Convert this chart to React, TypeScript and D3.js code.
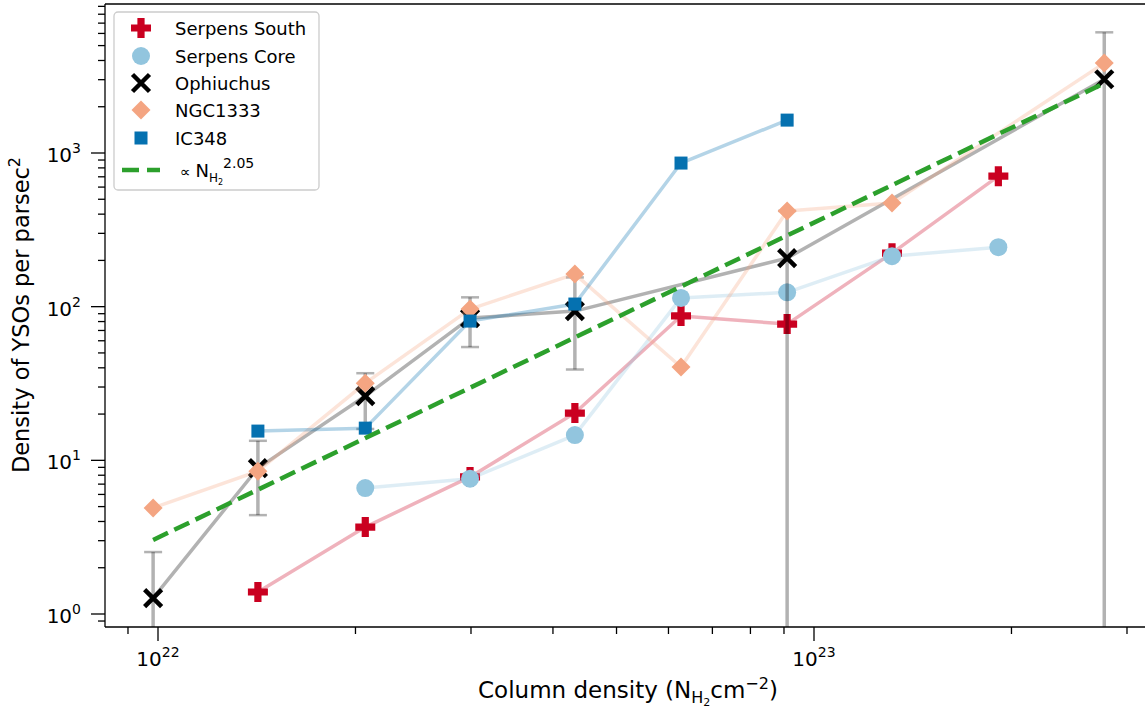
import React from "react";
import * as d3 from "d3";

const W = 1145;
const H = 711;

// Column density bins (cm^-2)
const columnDensity = [9.83e21, 1.42e22, 2.07e22, 2.99e22, 4.32e22, 6.27e22, 9.1e22, 1.315e23, 1.91e23, 2.77e23];

const serpensSouth = [null, 1.39, 3.68, 7.8, 20.3, 87, 77, 223, 707, null];
const serpensCore = [null, null, 6.6, 7.6, 14.6, 114, 124, 213, 244, null];
const ophiuchus = [1.27, 8.9, 26.2, 84.3, 93.6, null, 207, null, null, 3020];
const ophiuchusHigh = [2.53, 13.4, 36.9, 115, 155, null, 420, null, null, 6100];
const ophiuchusLow = [0, 4.4, 16, 54.6, 39, null, 0, null, null, 0];
const ngc1333 = [4.9, 8.5, 31.8, 96.4, 163, 40.5, 419, 472, null, 3845];
const ic348 = [null, 15.5, 16.2, 80.6, 104, 860, 1637, null, null, null];

const fitCoeff = 3.14; // at N = 1e22
const fitExponent = 2.05;

const xMajor = [1e22, 1e23];
const xMinor = [9e21, 2e22, 3e22, 4e22, 5e22, 6e22, 7e22, 8e22, 9e22, 2e23, 3e23];
const yMajor = [1, 10, 100, 1000];
const yMinor: number[] = [];
[0.1, 1, 10, 100, 1000].forEach((d) => {
  for (let k = 2; k <= 9; k++) yMinor.push(d * k);
});

const seriesNames = ["Serpens South", "Serpens Core", "Ophiuchus", "NGC1333", "IC348"];
const colors = ["#ca0020", "#92c5de", "#000000", "#f4a582", "#0571b0"];

const FONT = "DejaVu Sans, sans-serif";

// plot frame
const L = 105, R = 1146, T = 4, B = 627;

const x = d3.scaleLog().domain([1e22, 1e23]).range([158, 814]);
const y = d3.scaleLog().domain([1, 1000]).range([614, 153]);

function marker(kind: string, cx: number, cy: number, color: string, key: string) {
  if (kind === "plus") {
    const s = 10, t = 3.6;
    const p = `M${cx - t},${cy - s}H${cx + t}V${cy - t}H${cx + s}V${cy + t}H${cx + t}V${cy + s}H${cx - t}V${cy + t}H${cx - s}V${cy - t}H${cx - t}Z`;
    return <path key={key} d={p} fill={color} />;
  }
  if (kind === "circle") return <circle key={key} cx={cx} cy={cy} r={9} fill={color} />;
  if (kind === "x") {
    const s = 8.5;
    return (
      <path key={key} d={`M${cx - s},${cy - s}L${cx + s},${cy + s}M${cx - s},${cy + s}L${cx + s},${cy - s}`}
        stroke={color} strokeWidth={4.5} fill="none" />
    );
  }
  if (kind === "diamond") {
    const s = 9.5;
    return <path key={key} d={`M${cx},${cy - s}L${cx + s},${cy}L${cx},${cy + s}L${cx - s},${cy}Z`} fill={color} />;
  }
  const s = 6.5;
  return <rect key={key} x={cx - s} y={cy - s} width={2 * s} height={2 * s} fill={color} />;
}

const kinds = ["plus", "circle", "x", "diamond", "square"];
const allSeries = [serpensSouth, serpensCore, ophiuchus, ngc1333, ic348];

export default function App() {
  const line = d3
    .line<[number, number]>()
    .x((d) => x(d[0]))
    .y((d) => y(d[1]));

  const pts = (vals: (number | null)[]) =>
    columnDensity.map((c, i) => [c, vals[i]] as [number, number | null]).filter((d) => d[1] !== null) as [number, number][];

  const fitPts: [number, number][] = [columnDensity[0], columnDensity[columnDensity.length - 1]].map(
    (n) => [n, fitCoeff * Math.pow(n / 1e22, fitExponent)] as [number, number]
  );

  const yc = (v: number) => y(Math.max(v, 0.3));

  const seriesEls = allSeries.map((vals, si) => {
    const p = pts(vals);
    const els: React.ReactNode[] = [];
    els.push(
      <path key={`l${si}`} d={line(p) || ""} fill="none" stroke={colors[si]} strokeOpacity={0.3} strokeWidth={3.5} strokeLinejoin="round" />
    );
    if (si === 2) {
      columnDensity.forEach((c, i) => {
        const hi = ophiuchusHigh[i];
        const lo = ophiuchusLow[i];
        if (hi === null || lo === null) return;
        const cx = x(c);
        els.push(
          <g key={`e${i}`} stroke="#000" strokeOpacity={0.3} strokeWidth={3.5}>
            <line x1={cx} x2={cx} y1={yc(lo)} y2={yc(hi)} />
            <line x1={cx - 9} x2={cx + 9} y1={yc(hi)} y2={yc(hi)} strokeWidth={2.5} />
            <line x1={cx - 9} x2={cx + 9} y1={yc(lo)} y2={yc(lo)} strokeWidth={2.5} />
          </g>
        );
      });
    }
    p.forEach((d, i) => els.push(marker(kinds[si], x(d[0]), y(d[1]), colors[si], `m${si}-${i}`)));
    return <g key={`s${si}`}>{els}</g>;
  });

  const legendRows = [28, 56, 83, 110, 138];

  return (
    <div style={{ position: "absolute", left: 0, top: 0 }}>
      <svg width={W} height={H} style={{ display: "block", fontFamily: FONT }}>
        <defs>
          <clipPath id="plotclip">
            <rect x={L} y={T} width={R - L} height={B - T} />
          </clipPath>
        </defs>
        <rect x={0} y={0} width={W} height={H} fill="#fff" />
        <g clipPath="url(#plotclip)">
          {seriesEls}
          <path d={line(fitPts) || ""} fill="none" stroke="#2ca02c" strokeWidth={4.5} strokeDasharray="16.5,7" />
        </g>
        {/* frame */}
        <g stroke="#000" strokeWidth={1.3} fill="none">
          <line x1={L} x2={L} y1={T} y2={B} />
          <line x1={L} x2={R} y1={B} y2={B} />
          <line x1={L} x2={R} y1={T} y2={T} />
        </g>
        {/* ticks */}
        <g stroke="#000" strokeWidth={1.3}>
          {xMajor.map((v) => (
            <line key={`xM${v}`} x1={x(v)} x2={x(v)} y1={B} y2={B + 14} />
          ))}
          {xMinor.map((v) => (
            <line key={`xm${v}`} x1={x(v)} x2={x(v)} y1={B} y2={B + 7} />
          ))}
          {yMajor.map((v) => (
            <line key={`yM${v}`} x1={L} x2={L - 14} y1={y(v)} y2={y(v)} />
          ))}
          {yMinor
            .filter((v) => y(v) <= B && y(v) >= T)
            .map((v) => (
              <line key={`ym${v}`} x1={L} x2={L - 7} y1={y(v)} y2={y(v)} />
            ))}
        </g>
        {xMajor.map((v) => (
          <text key={`xl${v}`} x={x(v)} y={666} textAnchor="middle" fontSize={20} fill="#000">
            <tspan>10</tspan>
            <tspan dy={-9} fontSize={14}>{Math.round(Math.log10(v))}</tspan>
          </text>
        ))}
        {yMajor.map((v) => (
          <text key={`yl${v}`} x={81} y={y(v) + 9} textAnchor="end" fontSize={20} fill="#000">
            <tspan>10</tspan>
            <tspan dy={-9} fontSize={14}>{Math.round(Math.log10(v))}</tspan>
          </text>
        ))}
        {/* axis labels */}
        <text x={628} y={698} textAnchor="middle" fontSize={23} fill="#000">
          <tspan>Column density (N</tspan>
          <tspan dy={5} fontSize={16}>H</tspan>
          <tspan dy={3} fontSize={11}>2</tspan>
          <tspan dy={-8}>cm</tspan>
          <tspan dy={-9} fontSize={16}>−2</tspan>
          <tspan dy={9}>)</tspan>
        </text>
        <text transform="translate(29,315) rotate(-90)" textAnchor="middle" fontSize={22.5} fill="#000">
          <tspan>Density of YSOs per parsec</tspan>
          <tspan dy={-9} fontSize={16}>2</tspan>
        </text>
        {/* legend */}
        <g>
          <rect x={114} y={12} width={205} height={178} rx={4} fill="#fff" fillOpacity={0.8} stroke="#cccccc" strokeWidth={1.3} />
          {seriesNames.map((n, i) => (
            <g key={`lg${i}`}>
              {marker(kinds[i], 141, legendRows[i], colors[i], `lgm${i}`)}
              <text x={175} y={legendRows[i] + 6.5} fontSize={18} fill="#000">
                {n}
              </text>
            </g>
          ))}
          <line x1={122} x2={160} y1={170} y2={170} stroke="#2ca02c" strokeWidth={4.5} strokeDasharray="17,8" />
          <text x={180} y={177} fontSize={17} fill="#000">
            <tspan fontSize={15}>∝ </tspan>
            <tspan fontSize={18}>N</tspan>
            <tspan dy={5} fontSize={12}>H</tspan>
            <tspan dy={3} fontSize={8}>2</tspan>
            <tspan dy={-17} fontSize={14}>2.05</tspan>
          </text>
        </g>
      </svg>
    </div>
  );
}
